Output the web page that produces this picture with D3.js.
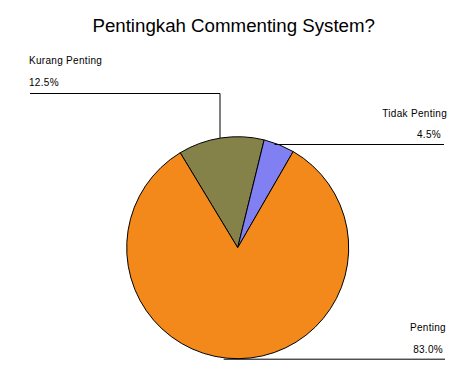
<!DOCTYPE html>
<html><head><meta charset="utf-8">
<script src="https://cdn.jsdelivr.net/npm/d3@7"></script>
<style>body{margin:0;background:#fff}svg{display:block}</style>
</head><body>
<svg id="c" width="476" height="380"></svg>
<script>
const categories = ["Kurang Penting", "Tidak Penting", "Penting"];
const values = [12.5, 4.5, 83.0];
const valueLabels = ["12.5%", "4.5%", "83.0%"];
const colors = ["#858249", "#8080F2", "#F2891A"];

const svg = d3.select("#c");
const W = 476, H = 380;
const cx = 237.7, cy = 247.7, r = 111;

svg.append("text").attr("x", 233.7).attr("y", 32).attr("text-anchor", "middle")
  .attr("font-family", "Liberation Sans, Arial, sans-serif").attr("font-size", 18.7)
  .text("Pentingkah Commenting System?");

const startA = -31.2 * Math.PI / 180;
const pie = d3.pie().sort(null).value(d => d).startAngle(startA).endAngle(startA + 2 * Math.PI);
const arcs = pie(values);
const arc = d3.arc().innerRadius(0).outerRadius(r);
const g = svg.append("g").attr("transform", `translate(${cx},${cy})`);
g.selectAll("path").data(arcs).join("path")
  .attr("d", arc).attr("fill", (d, i) => colors[i])
  .attr("stroke", "#000").attr("stroke-width", 1);

// label layout
const font = "Liberation Sans, Arial, sans-serif";
const lab = svg.append("g").attr("font-family", font).attr("font-size", 10).attr("letter-spacing", "0.3px");
function edgeY(x) { return cy - Math.sqrt(r * r - (x - cx) * (x - cx)); }
function edgeXRight(y) { return cx + Math.sqrt(r * r - (y - cy) * (y - cy)); }

// Kurang Penting (left, elbow)
{
  const vx = 220, hy = 93.5;
  lab.append("path").attr("d", `M${vx},${edgeY(vx)}V${hy}H30`).attr("fill", "none").attr("stroke", "#000");
  lab.append("text").attr("x", 29).attr("y", 64).text(categories[0]);
  lab.append("text").attr("x", 29).attr("y", 86).text(valueLabels[0]);
}
// Tidak Penting
{
  const hy = 144.5;
  lab.append("path").attr("d", `M${edgeXRight(hy) - 4},${hy}H444`).attr("fill", "none").attr("stroke", "#000");
  lab.append("text").attr("x", 447).attr("y", 117).attr("text-anchor", "end").text(categories[1]);
  lab.append("text").attr("x", 441).attr("y", 138).attr("text-anchor", "end").text(valueLabels[1]);
}
// Penting
{
  const hy = cy + r + 0.5;
  lab.append("path").attr("d", `M${cx - 14},${hy}H445`).attr("fill", "none").attr("stroke", "#000");
  lab.append("text").attr("x", 446).attr("y", 331).attr("text-anchor", "end").text(categories[2]);
  lab.append("text").attr("x", 443).attr("y", 353).attr("text-anchor", "end").text(valueLabels[2]);
}
</script>
</body></html>
